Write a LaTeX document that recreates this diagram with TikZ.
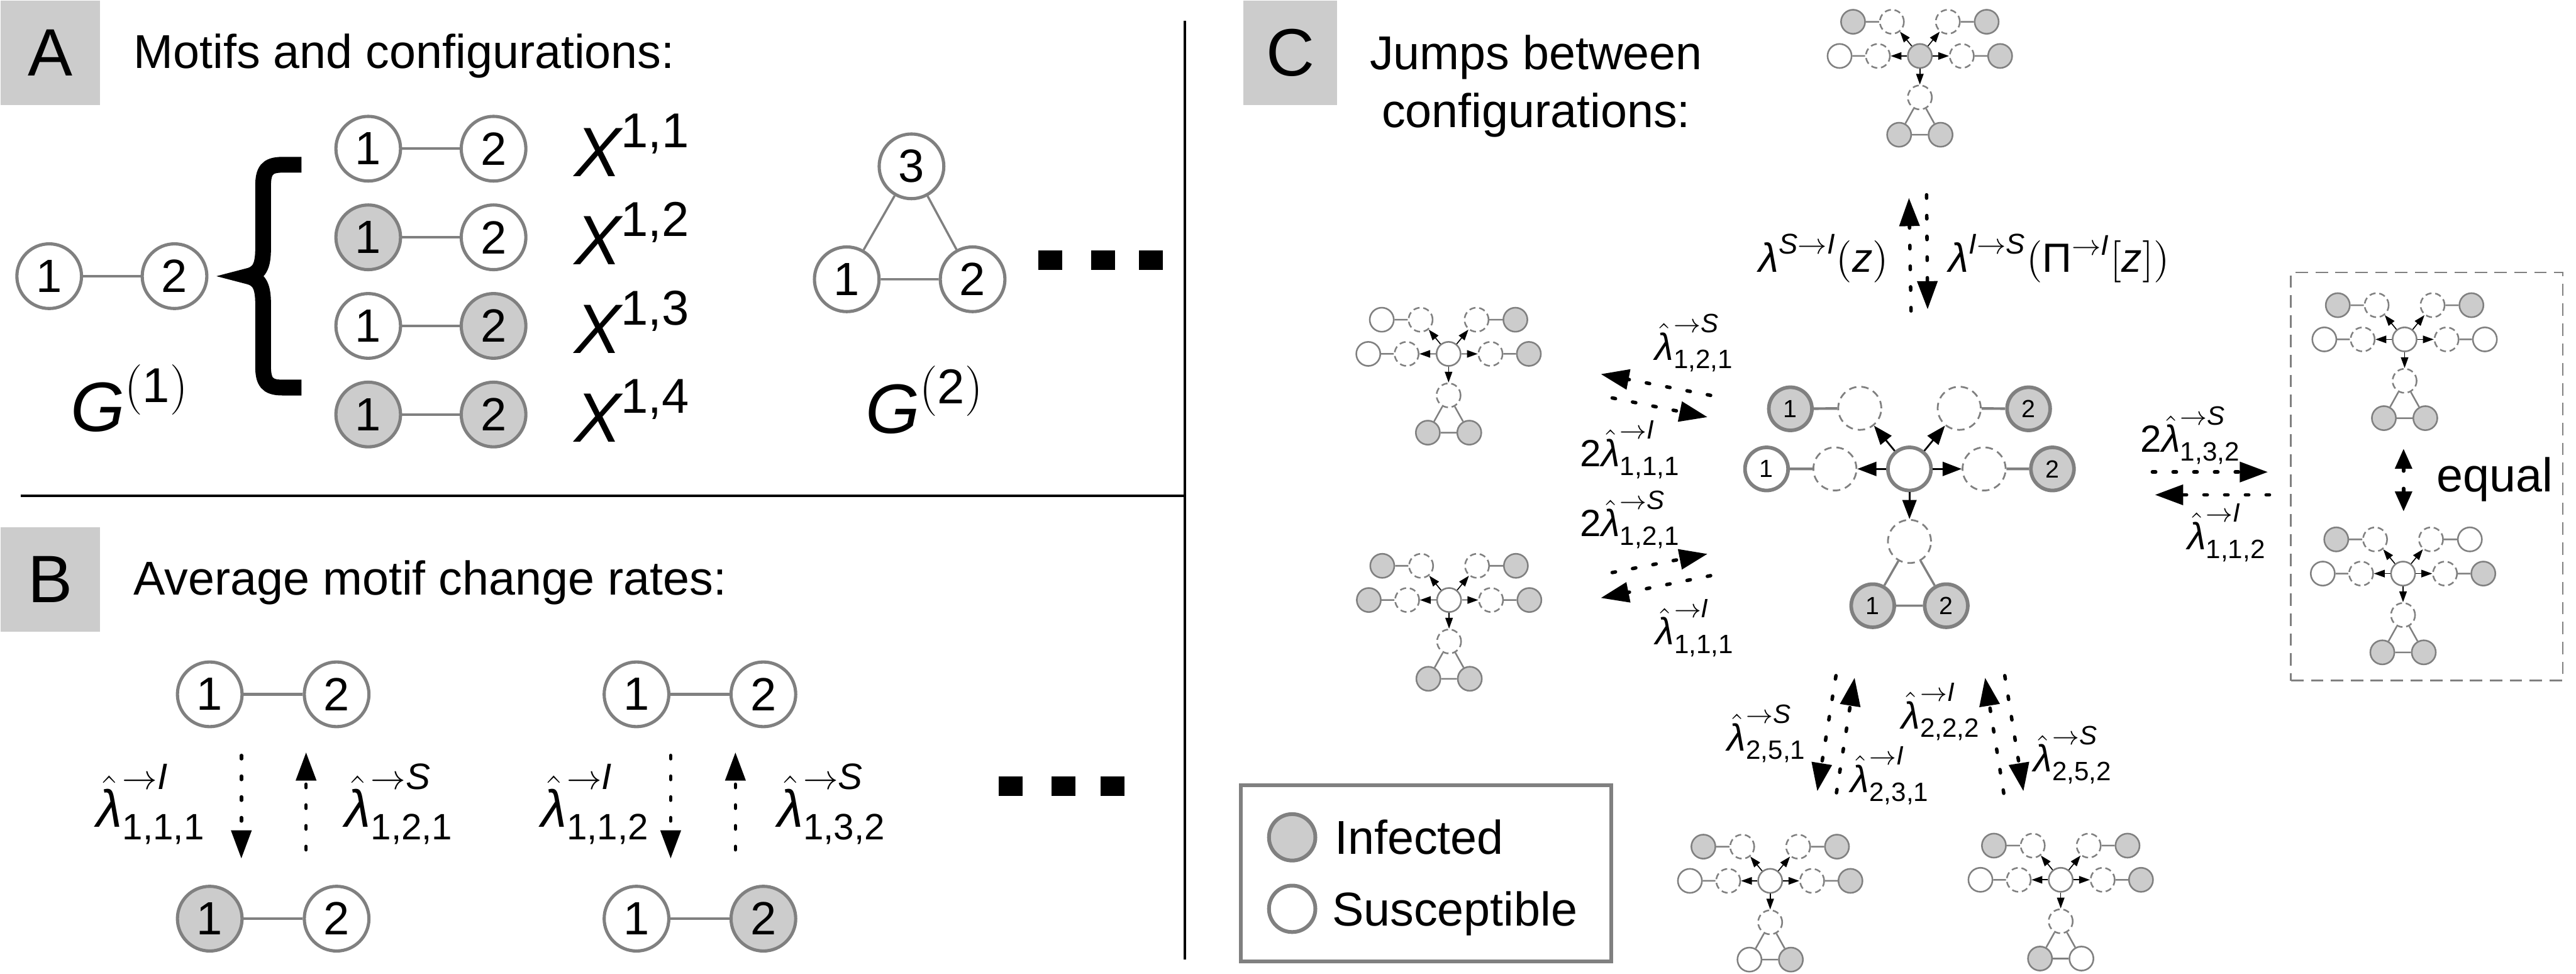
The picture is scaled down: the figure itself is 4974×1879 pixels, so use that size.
\documentclass[tikz,border=0pt]{standalone}
\usepackage{amsmath}
\usepackage{fontspec}
\setmainfont{Liberation Sans}
\usepackage{tikz}
\usetikzlibrary{arrows.meta, positioning, calc}

\definecolor{infc}{HTML}{CCCCCC}
\definecolor{edgec}{HTML}{808080}
\definecolor{tagc}{HTML}{CCCCCC}

\newcommand{\vi}[1]{\text{\itshape #1}}
\newcommand{\lmb}{\vi{λ}}
\newcommand{\rate}[2]{\hat{\lmb}^{\rightarrow\vi{#1}}_{\text{#2}}}

\tikzset{
    mini/.style={circle, draw=edgec, line width=0.55pt, minimum size=2.9mm, inner sep=0pt},
    slot/.style={mini, dash pattern=on 0.75mm off 0.45mm},
    link/.style={draw=edgec, line width=0.55pt},
    hop/.style={-{Triangle[length=1.3mm, width=0.9mm]}, line width=0.35pt},
    pics/config/.style n args={7}{code={
        \node[mini, fill=#1] (-c) {};
        \node[mini, fill=#2] (-ul) at (-129,-66) {};
        \node[slot] (-uld) at (-54,-66) {};
        \node[mini, fill=#3] (-ur) at (129,-66) {};
        \node[slot] (-urd) at (54,-66) {};
        \node[mini, fill=#4] (-l) at (-155,0) {};
        \node[slot] (-ld) at (-81,0) {};
        \node[mini, fill=#5] (-r) at (155,0) {};
        \node[slot] (-rd) at (81,0) {};
        \node[slot] (-bd) at (0,80) {};
        \node[mini, fill=#6] (-b1) at (-40,152) {};
        \node[mini, fill=#7] (-b2) at (40,152) {};
        \draw[link] (-ul) -- (-uld) (-ur) -- (-urd) (-l) -- (-ld) (-r) -- (-rd)
            (-bd) -- (-b1) (-bd) -- (-b2) (-b1) -- (-b2);
        \foreach \s in {uld,urd,ld,rd,bd}
            \draw[hop] (-c) -- (-\s);
    }}
}

\begin{document}
\begin{tikzpicture}[
    x=0.0625mm, y=-0.0625mm,
    tag/.style={fill=tagc, minimum width=12mm, minimum height=12.6mm, inner sep=0pt,
        font=\fontsize{23}{26}\selectfont},
    head/.style={inner sep=0pt, font=\fontsize{16.3}{19.5}\selectfont},
    rule/.style={line width=0.9pt},
    motif/.style={circle, draw=edgec, line width=1.1pt, fill=white, minimum size=7.8mm,
        inner sep=0pt, font=\fontsize{16}{18}\selectfont},
    bond/.style={draw=edgec, line width=0.9pt},
    glab/.style={inner sep=0pt, font=\fontsize{24}{28}\selectfont},
    big/.style={circle, draw=edgec, line width=1.25pt, fill=white, minimum size=5.2mm,
        inner sep=0pt, font=\fontsize{8.5}{10}\selectfont},
    bigslot/.style={circle, draw=edgec, line width=0.6pt, minimum size=5.2mm, inner sep=0pt,
        dash pattern=on 0.9mm off 0.6mm},
    bighop/.style={-{Triangle[length=2.3mm, width=1.7mm]}, line width=0.6pt},
    jump/.style={line width=1.2pt, line cap=round, dash pattern=on 0.4mm off 2.1mm,
        -{Triangle[length=3.4mm, width=2.4mm]}},
    rateB/.style={inner sep=0pt, font=\fontsize{18}{20}\selectfont},
    rateT/.style={inner sep=0pt, font=\fontsize{14}{16}\selectfont},
    rateC/.style={inner sep=0pt, font=\fontsize{13}{15}\selectfont},
    legdot/.style={circle, draw=edgec, line width=1.3pt, minimum size=5.6mm, inner sep=0pt}
]
\useasboundingbox (0,0) rectangle (4974,1879);

% Panel tags and titles
\node[tag, anchor=north west] (tagA) at (0,0) {A};
\node[head, anchor=base west] (titleA) at (257,132) {Motifs and configurations:};
\node[tag, anchor=north west] (tagB) at (0,1016) {B};
\node[head, anchor=base west] (titleB) at (257,1148) {Average motif change rates:};
\node[tag, anchor=north west, minimum width=11.3mm] (tagC) at (2400,0) {C};
\node[head, anchor=base] (titleC1) at (2966,134) {Jumps between};
\node[head, anchor=base] (titleC2) at (2966,246) {configurations:};

% Dividers
\draw[rule] (40,957) -- (2288,957);
\draw[rule] (2288,40) -- (2288,1852);

% Panel A: motifs
\node[motif] (g1a) at (95,533) {1};
\node[motif] (g1b) at (337,533) {2};
\draw[bond] (g1a) -- (g1b);
\node[glab, anchor=base west] (g1) at (135,833) {$\vi{G}^{(\text{1})}$};

\draw[line width=1.9mm] (582,318) -- (545,318) .. controls (515,318) and (508,330) .. (508,360)
    -- (508,480) .. controls (508,515) and (500,528) .. (478,533)
    .. controls (500,538) and (508,551) .. (508,586) -- (508,706)
    .. controls (508,736) and (515,748) .. (545,748) -- (582,748);

\foreach \y/\a/\b [count=\i] in {287/white/white, 458/infc/white, 629/white/infc, 800/infc/infc} {
    \node[motif, fill=\a] (row\i-1) at (711,\y) {1};
    \node[motif, fill=\b] (row\i-2) at (953,\y) {2};
    \draw[bond] (row\i-1) -- (row\i-2);
    \node[glab, anchor=base west] (x\i) at (1108,{\y+53}) {$\vi{X}^{\text{1,\i}}$};
}

\node[motif] (tri3) at (1760,321) {3};
\node[motif] (tri1) at (1635,539) {1};
\node[motif] (tri2) at (1878,539) {2};
\draw[bond, line width=0.75pt] (tri1) -- (tri2) (tri1) -- (tri3) (tri2) -- (tri3);
\node[glab, anchor=base west] (g2) at (1670,836) {$\vi{G}^{(\text{2})}$};

\foreach \x in {2028,2130,2222}
    \fill (\x-23,483) rectangle (\x+23,521);

% Panel B: change rates
\node[motif] (p1t1) at (405,1340) {1};
\node[motif] (p1t2) at (650,1340) {2};
\node[motif, fill=infc] (p1b1) at (405,1773) {1};
\node[motif] (p1b2) at (650,1773) {2};
\node[motif] (p2t1) at (1229,1340) {1};
\node[motif] (p2t2) at (1474,1340) {2};
\node[motif] (p2b1) at (1229,1773) {1};
\node[motif, fill=infc] (p2b2) at (1474,1773) {2};
\draw[bond] (p1t1) -- (p1t2) (p1b1) -- (p1b2) (p2t1) -- (p2t2) (p2b1) -- (p2b2);

\coordinate (d1s) at (466,1458); \coordinate (d1e) at (466,1657);
\coordinate (u1s) at (591,1640); \coordinate (u1e) at (591,1452);
\coordinate (d2s) at (1295,1458); \coordinate (d2e) at (1295,1657);
\coordinate (u2s) at (1420,1640); \coordinate (u2e) at (1420,1452);
\draw[jump] (d1s) -- (d1e);
\draw[jump] (u1s) -- (u1e);
\draw[jump] (d2s) -- (d2e);
\draw[jump] (u2s) -- (u2e);

\node[rateB, anchor=east] (r111) at (398,1552) {$\rate{I}{1,1,1}$};
\node[rateB, anchor=west] (r121) at (665,1552) {$\rate{S}{1,2,1}$};
\node[rateB, anchor=east] (r112) at (1256,1552) {$\rate{I}{1,1,2}$};
\node[rateB, anchor=west] (r132) at (1500,1552) {$\rate{S}{1,3,2}$};

\foreach \x in {1951,2053,2148}
    \fill (\x-23,1498) rectangle (\x+23,1536);

% Panel C: configurations
\pic (top) at (3707,108) {config={infc}{infc}{infc}{white}{infc}{infc}{infc}};
\pic (lt) at (2797,683) {config={white}{white}{infc}{white}{infc}{infc}{infc}};
\pic (lb) at (2798,1158) {config={white}{infc}{infc}{infc}{infc}{infc}{infc}};
\pic (rt) at (4643,655) {config={white}{infc}{infc}{white}{white}{infc}{infc}};
\pic (rb) at (4640,1107) {config={white}{infc}{white}{white}{infc}{infc}{infc}};
\pic (bl) at (3418,1700) {config={white}{infc}{infc}{white}{infc}{white}{infc}};
\pic (br) at (3979,1698) {config={white}{infc}{infc}{white}{infc}{infc}{white}};

% Central configuration
\node[big] (m-c) at (3687,905) {};
\node[big, fill=infc] (m-ul) at (3457,789) {1};
\node[bigslot] (m-uld) at (3591,788) {};
\node[big, fill=infc] (m-ur) at (3917,789) {2};
\node[bigslot] (m-urd) at (3783,788) {};
\node[big] (m-l) at (3411,905) {1};
\node[bigslot] (m-ld) at (3543,905) {};
\node[big, fill=infc] (m-r) at (3963,905) {2};
\node[bigslot] (m-rd) at (3831,905) {};
\node[bigslot] (m-bd) at (3687,1045) {};
\node[big, fill=infc] (m-b1) at (3616,1169) {1};
\node[big, fill=infc] (m-b2) at (3758,1169) {2};
\draw[bond] (m-ul) -- (m-uld) (m-ur) -- (m-urd) (m-l) -- (m-ld) (m-r) -- (m-rd);
\draw[bond, line width=0.75pt] (m-bd) -- (m-b1) (m-bd) -- (m-b2) (m-b1) -- (m-b2);
\foreach \s in {uld,urd,ld,rd,bd}
    \draw[bighop] (m-c) -- (m-\s);

% Jumps
\coordinate (tu-s) at (3690,600); \coordinate (tu-e) at (3686,382);
\coordinate (td-s) at (3720,376); \coordinate (td-e) at (3722,597);
\draw[jump] (tu-s) -- (tu-e);
\draw[jump] (td-s) -- (td-e);
\node[rateT, anchor=base east] (lsi) at (3648,525) {$\lmb^{\vi{S}\rightarrow\vi{I}}(\vi{z})$};
\node[rateT, anchor=base west] (lis) at (3762,525) {$\lmb^{\vi{I}\rightarrow\vi{S}}(\text{Π}^{\rightarrow\vi{I}}[\vi{z}])$};

\coordinate (a1-s) at (3303,763); \coordinate (a1-e) at (3091,722);
\coordinate (a2-s) at (3113,768); \coordinate (a2-e) at (3297,805);
\draw[jump] (a1-s) -- (a1-e);
\draw[jump] (a2-s) -- (a2-e);
\node[rateC] (ra1) at (3272,662) {$\rate{S}{1,2,1}$};
\node[rateC] (ra2) at (3148,868) {$\text{2}\rate{I}{1,1,1}$};

\coordinate (b1-s) at (3113,1105); \coordinate (b1-e) at (3297,1069);
\coordinate (b2-s) at (3303,1111); \coordinate (b2-e) at (3091,1154);
\draw[jump] (b1-s) -- (b1-e);
\draw[jump] (b2-s) -- (b2-e);
\node[rateC] (rb1) at (3148,1003) {$\text{2}\rate{S}{1,2,1}$};
\node[rateC] (rb2) at (3273,1212) {$\rate{I}{1,1,1}$};

\coordinate (c1-s) at (4156,911); \coordinate (c1-e) at (4379,911);
\coordinate (c2-s) at (4382,955); \coordinate (c2-e) at (4161,955);
\draw[jump] (c1-s) -- (c1-e);
\draw[jump] (c2-s) -- (c2-e);
\node[rateC] (rc1) at (4230,840) {$\text{2}\rate{S}{1,3,2}$};
\node[rateC] (rc2) at (4300,1028) {$\rate{I}{1,1,2}$};

\coordinate (e1-s) at (3546,1530); \coordinate (e1-e) at (3581,1308);
\coordinate (e2-s) at (3545,1304); \coordinate (e2-e) at (3509,1527);
\draw[jump] (e1-s) -- (e1-e);
\draw[jump] (e2-s) -- (e2-e);
\node[rateC] (re1) at (3412,1416) {$\rate{S}{2,5,1}$};
\node[rateC] (re2) at (3650,1497) {$\rate{I}{2,3,1}$};

\coordinate (f1-s) at (3869,1531); \coordinate (f1-e) at (3833,1308);
\coordinate (f2-s) at (3871,1304); \coordinate (f2-e) at (3907,1527);
\draw[jump] (f1-s) -- (f1-e);
\draw[jump] (f2-s) -- (f2-e);
\node[rateC] (rf1) at (3748,1374) {$\rate{I}{2,2,2}$};
\node[rateC] (rf2) at (4003,1457) {$\rate{S}{2,5,2}$};

% Equal pair
\node[draw=edgec, line width=0.6pt, dash pattern=on 1.5mm off 0.9mm, minimum width=32.8mm,
    minimum height=49.25mm, anchor=north west, inner sep=0pt] (eqbox) at (4422,524) {};
\coordinate (eq-s) at (4641,866); \coordinate (eq-e) at (4641,987);
\draw[jump, {Triangle[length=2.4mm, width=2mm]}-{Triangle[length=2.4mm, width=2mm]}] (eq-s) -- (eq-e);
\node[head, anchor=base west] (eqtxt) at (4704,949) {equal};

% Legend
\node[draw=edgec, line width=1.3pt, fill=white, minimum width=44.75mm, minimum height=21.25mm,
    anchor=north west, inner sep=0pt] (legend) at (2392,1512) {};
\node[legdot, fill=infc] (kinf) at (2495,1616) {};
\node[legdot, fill=white] (ksus) at (2495,1754) {};
\node[head, anchor=base west] (tinf) at (2576,1648) {Infected};
\node[head, anchor=base west] (tsus) at (2571,1787) {Susceptible};

\end{tikzpicture}
\end{document}
